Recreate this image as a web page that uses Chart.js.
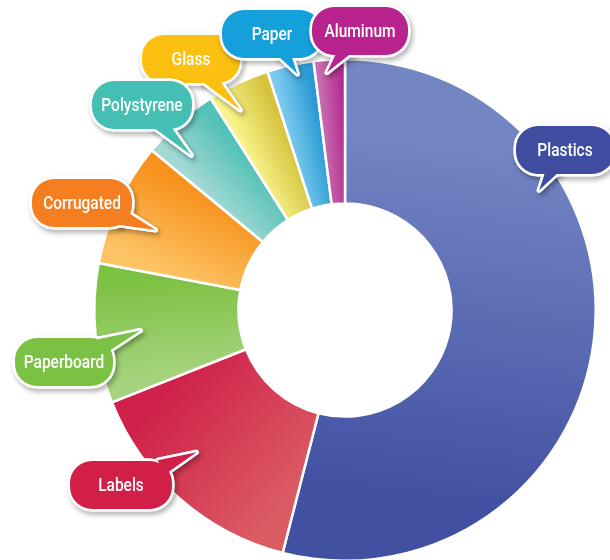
<!DOCTYPE html>
<html>
<head>
<meta charset="utf-8">
<script src="https://cdn.jsdelivr.net/npm/chart.js@4/dist/chart.umd.min.js"></script>
<style>
  html, body { margin: 0; padding: 0; background: #fff; overflow: hidden; }
  #wrap { position: relative; width: 610px; height: 562px; }
</style>
</head>
<body>
<div id="wrap"><canvas id="chart"></canvas></div>
<script>
// packaging share by material (%), clockwise from 12 o'clock
const categories = ["Plastics", "Labels", "Paperboard", "Corrugated", "Polystyrene", "Glass", "Paper", "Aluminum"];
const shares = [54, 15, 9, 8, 5, 4, 3, 2];

// slice gradient: start colour -> end colour (clockwise)
const lightColors = ["#7385c3", "#db5b63", "#a6d47e", "#fdc466", "#a3d9d5", "#f8f38c", "#7ccaee", "#c86fae"];
const darkColors = ["#4250a2", "#cf2149", "#7cc142", "#f7921c", "#52c1b7", "#d6c23c", "#2899d2", "#b52a8f"];
const bubbleColors = ["#3f4c9f", "#d21f48", "#7bc143", "#f47e20", "#45bfb3", "#fcc010", "#13a0db", "#b8238e"];

// callout bubbles: centre, width, and where the tail points inside its slice
const bubbleX = [565, 121, 64, 82, 142, 191, 272, 360];
const bubbleY = [150, 485, 362, 203, 105, 59, 34, 31];
const bubbleW = [98, 102, 98, 100, 100, 98, 100, 96];
const tipAlong = [0.30, 0.59, 0.49, 0.42, 0.31, 0.33, 0.61, 0.40];
const tipOut = [0.91, 0.82, 0.82, 0.82, 0.87, 0.90, 0.96, 0.95];
const drawOrder = [5, 6, 7, 4, 3, 2, 1, 0];

function sliceGradient(context) {
  const chart = context.chart;
  const area = chart.chartArea;
  const i = context.dataIndex;
  if (!area) return lightColors[i];
  const total = shares.reduce((a, b) => a + b, 0);
  let before = 0;
  for (let k = 0; k < i; k++) before += shares[k];
  const a0 = -Math.PI / 2 + (before / total) * 2 * Math.PI;
  const a1 = a0 + (shares[i] / total) * 2 * Math.PI;
  const cx = (area.left + area.right) / 2;
  const cy = (area.top + area.bottom) / 2;
  const r = (Math.min(area.width, area.height) / 2) * 0.72;
  const g = chart.ctx.createLinearGradient(
    cx + r * Math.cos(a0), cy + r * Math.sin(a0),
    cx + r * Math.cos(a1), cy + r * Math.sin(a1)
  );
  g.addColorStop(0, lightColors[i]);
  g.addColorStop(1, darkColors[i]);
  return g;
}

// returns the two pieces of a callout: the rounded box and its tail
function bubbleShapes(bx, by, w, h, tx, ty) {
  let dx = tx - bx, dy = ty - by;
  const len = Math.hypot(dx, dy);
  dx /= len; dy /= len;
  const sx = (w / 2) / Math.max(Math.abs(dx), 1e-6);
  const sy = (h / 2) / Math.max(Math.abs(dy), 1e-6);
  const s = Math.min(sx, sy) - 12;
  const px = bx + dx * s, py = by + dy * s;
  const nx = -dy, ny = dx;
  const box = new Path2D();
  box.roundRect(bx - w / 2, by - h / 2, w, h, 22);
  const tail = new Path2D();
  tail.moveTo(px + nx * 8, py + ny * 8);
  tail.lineTo(tx, ty);
  tail.lineTo(px - nx * 8, py - ny * 8);
  tail.closePath();
  return [box, tail];
}

const bubblePlugin = {
  id: "bubbles",
  afterDatasetsDraw(chart) {
    const ctx = chart.ctx;
    const arcs = chart.getDatasetMeta(0).data;
    drawOrder.forEach((i) => {
      const arc = arcs[i];
      const ang = arc.startAngle + tipAlong[i] * (arc.endAngle - arc.startAngle);
      const tr = arc.outerRadius * tipOut[i];
      const tx = arc.x + tr * Math.cos(ang);
      const ty = arc.y + tr * Math.sin(ang);
      const bx = bubbleX[i], by = bubbleY[i], w = bubbleW[i], h = 48;
      const shapes = bubbleShapes(bx, by, w, h, tx, ty);

      ctx.save();
      ctx.lineJoin = "round";
      ctx.strokeStyle = "#fff";
      ctx.lineWidth = 5;
      ctx.shadowColor = "rgba(0,0,0,0.35)";
      ctx.shadowBlur = 5;
      ctx.shadowOffsetX = 2;
      ctx.shadowOffsetY = 3;
      shapes.forEach((p) => ctx.stroke(p));
      ctx.shadowColor = "transparent";
      shapes.forEach((p) => ctx.stroke(p));
      ctx.fillStyle = bubbleColors[i];
      shapes.forEach((p) => ctx.fill(p));

      ctx.translate(bx, by + 1);
      ctx.scale(0.86, 1);
      ctx.fillStyle = "#fff";
      ctx.font = '500 18px Roboto, "Liberation Sans", sans-serif';
      ctx.textAlign = "center";
      ctx.textBaseline = "middle";
      ctx.fillText(categories[i], 0, 0);
      ctx.restore();
    });
  }
};

new Chart(document.getElementById("chart"), {
  type: "doughnut",
  data: {
    labels: categories,
    datasets: [{
      data: shares,
      backgroundColor: sliceGradient,
      borderColor: "#fff",
      borderWidth: 2.5,
      hoverOffset: 0
    }]
  },
  options: {
    responsive: true,
    maintainAspectRatio: false,
    animation: false,
    events: [],
    cutout: "42.5%",
    layout: { padding: { left: 93, right: 13, top: 58, bottom: 0 } },
    plugins: {
      legend: { display: false },
      tooltip: { enabled: false }
    }
  },
  plugins: [bubblePlugin]
});
</script>
</body>
</html>
